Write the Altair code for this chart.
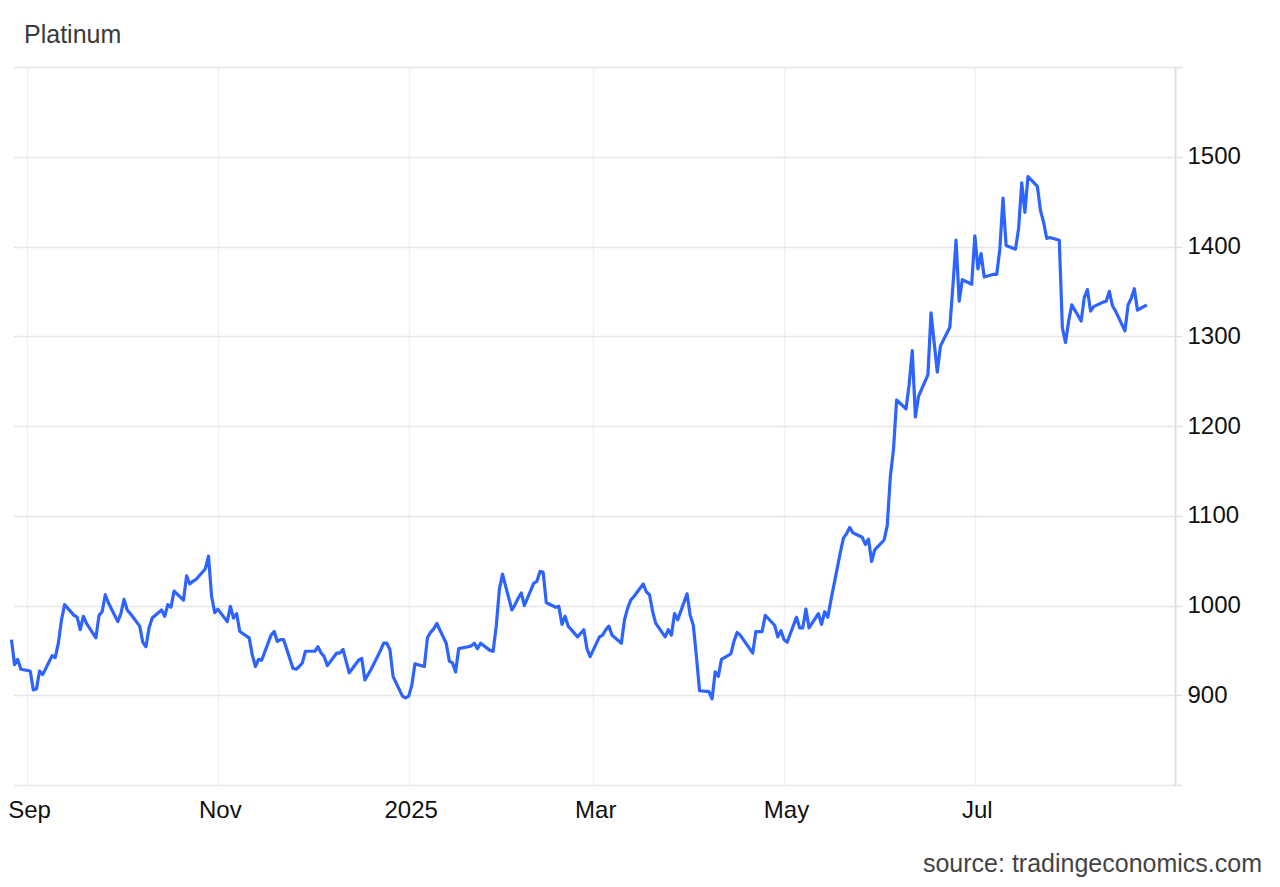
import altair as alt
import pandas as pd

# Platinum price, one value per trading day starting 2024-08-27
start_date = "2024-08-27"
prices_2024 = [
    962, 934, 940, 929, 927, 906, 907, 927, 923, 944, 942, 958, 984, 1001, 989,
    987, 973, 988, 980, 964, 989, 993, 1012, 1003, 982, 991, 1007, 995, 991, 977,
    959, 954, 975, 986, 995, 988, 1001, 998, 1016, 1006, 1033, 1024, 1027, 1029, 1041,
    1055, 1010, 992, 996, 982, 999, 986, 991, 971, 964, 945, 932, 940, 939, 967,
    971, 960, 962, 962, 930, 929, 932, 936, 949, 949, 954, 947, 943, 933, 947,
    947, 951, 938, 925, 939, 941, 917, 923, 929, 950, 958, 958, 951, 921, 899,
    897, 899,
]
prices_2025_h1 = [
    911, 935, 932, 964, 970, 974, 980, 958, 938, 936, 926, 952, 954, 955, 958,
    952, 958, 950, 949, 977, 1018, 1035, 995, 1001, 1008, 1014, 1000, 1025, 1027, 1038,
    1037, 1003, 998, 999, 979, 988, 977, 965, 969, 973, 952, 943, 965, 967, 973,
    977, 967, 958, 984, 997, 1006, 1010, 1024, 1015, 1012, 993, 980, 965, 973, 967,
    991, 984, 1013, 989, 978, 943, 905, 904, 896, 926, 921, 940, 946, 960, 970,
    967, 962, 947, 971, 971, 971, 989, 978, 965, 972,
]
prices_2025_h2 = [
    962, 959, 987, 975, 975, 996, 975, 991, 979, 993, 987, 1006, 1059, 1075, 1080,
    1087, 1081, 1076, 1068, 1074, 1049, 1062, 1073, 1089, 1144, 1174, 1229, 1219, 1246, 1284,
    1210, 1233, 1257, 1326, 1293, 1260, 1289, 1310, 1356, 1407,
    1339, 1363, 1358, 1412, 1375, 1392, 1366, 1369, 1369, 1397, 1454, 1401, 1397, 1420, 1471,
    1438, 1478, 1467, 1440, 1427, 1409, 1410, 1407, 1309, 1293, 1317, 1335, 1317, 1343, 1352,
    1328, 1333, 1338, 1339, 1350, 1334, 1328, 1306, 1335, 1342, 1353, 1329, 1335,
]
values = prices_2024 + prices_2025_h1 + prices_2025_h2
dates = pd.bdate_range(start=start_date, periods=len(values))

y_ticks = [800, 900, 1000, 1100, 1200, 1300, 1400, 1500, 1600]
title_text = ["Platinum"]
source_text = ["source: tradingeconomics.com"]

df = pd.DataFrame({"date": dates, "price": values})

FONT = "Liberation Sans"

x_ticks = [
    alt.DateTime(year=2024, month=9, date=1),
    alt.DateTime(year=2024, month=11, date=1),
    alt.DateTime(year=2025, month=1, date=1),
    alt.DateTime(year=2025, month=3, date=1),
    alt.DateTime(year=2025, month=5, date=1),
    alt.DateTime(year=2025, month=7, date=1),
]

line = alt.Chart(df).mark_line(color="#2d63ff", strokeWidth=3.2, strokeJoin="round").encode(
    x=alt.X(
        "date:T",
        scale=alt.Scale(domain=[alt.DateTime(year=2024, month=8, date=27, hours=12),
                                alt.DateTime(year=2025, month=9, date=3)]),
        axis=alt.Axis(
            title=None,
            values=x_ticks,
            labelExpr="month(datum.value) == 0 ? timeFormat(datum.value, '%Y') : timeFormat(datum.value, '%b')",
            grid=True,
            gridColor="#eef1f6",
            gridWidth=1.5,
            domain=False,
            ticks=False,
            labelFont=FONT,
            labelFontSize=24,
            labelColor="#111111",
            labelPadding=13,
            labelOffset=2,
            labelAlign="center",
        ),
    ),
    y=alt.Y(
        "price:Q",
        scale=alt.Scale(domain=[800, 1600], nice=False, zero=False),
        axis=alt.Axis(
            title=None,
            orient="right",
            values=y_ticks,
            labelExpr="datum.value == 800 || datum.value == 1600 ? '' : datum.label",
            format="d",
            grid=True,
            gridColor="#e6e6e6",
            gridWidth=1.5,
            domain=True,
            domainColor="#e0e0e0",
            domainWidth=2,
            ticks=True,
            tickColor="#e0e0e0",
            tickSize=7,
            tickWidth=1.5,
            labelFont=FONT,
            labelFontSize=24,
            labelColor="#111111",
            labelPadding=5,
            labelAlign="left",
            labelBaseline="middle",
        ),
    ),
)

title = alt.Chart(pd.DataFrame({"t": title_text})).mark_text(
    font=FONT, fontSize=25, color="#3a3a3a", align="left", baseline="alphabetic"
).encode(text="t:N", x=alt.value(11), y=alt.value(-24))

source = alt.Chart(pd.DataFrame({"t": source_text})).mark_text(
    font=FONT, fontSize=25, color="#444444", align="right", baseline="middle"
).encode(text="t:N", x=alt.value(1249), y=alt.value(79 + 718))

chart = alt.layer(line, title, source).properties(
    width=1162,
    height=718,
    autosize=alt.AutoSizeParams(type="none"),
    padding={"left": 5, "top": 59, "right": 97, "bottom": 94},
    background="white",
).configure_view(stroke=None)

chart.save("out.html", embed_options={"renderer": "svg", "actions": False})
